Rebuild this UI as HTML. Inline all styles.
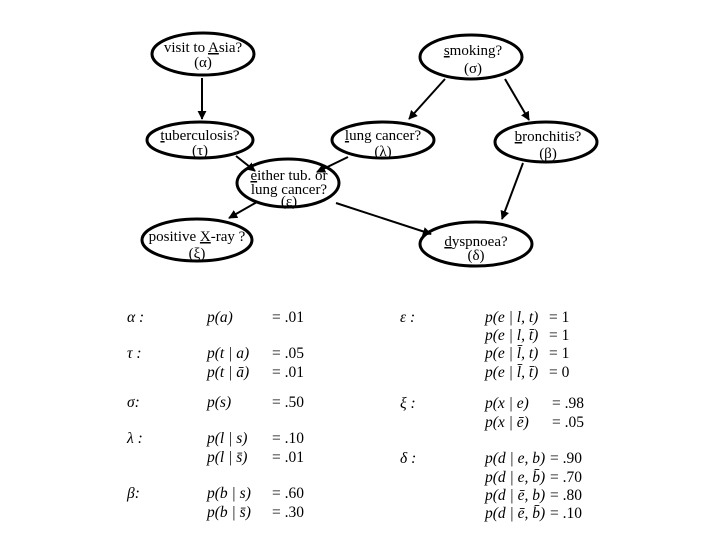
<!DOCTYPE html>
<html><head><meta charset="utf-8"><style>
body{margin:0;background:#fff}
svg{display:block}
text{font-family:"Liberation Serif",serif;fill:#000}
.n{font-size:15px}
.t{font-size:15.5px;font-style:italic}
.u{text-decoration:underline}
</style></head><body>
<svg width="720" height="540" viewBox="0 0 720 540">
<defs><marker id="a" viewBox="0 0 10 10" refX="9" refY="5" markerWidth="9" markerHeight="9" orient="auto" markerUnits="userSpaceOnUse"><path d="M0,0L10,5L0,10z"/></marker></defs>
<g fill="#fff" stroke="#000" stroke-width="3">
<ellipse cx="203" cy="54" rx="51" ry="21"/>
<ellipse cx="471" cy="57" rx="51" ry="22"/>
<ellipse cx="200" cy="140" rx="53" ry="18"/>
<ellipse cx="383" cy="140" rx="51" ry="18"/>
<ellipse cx="546" cy="142" rx="51" ry="20"/>
<ellipse cx="288" cy="183" rx="51" ry="24"/>
<ellipse cx="197" cy="240" rx="55" ry="21"/>
<ellipse cx="476" cy="244" rx="56" ry="22"/>
</g>
<g stroke="#000" stroke-width="2" marker-end="url(#a)">
<line x1="202" y1="78" x2="202" y2="119"/>
<line x1="236" y1="156" x2="255" y2="171"/>
<line x1="348" y1="157" x2="317" y2="172"/>
<line x1="445" y1="79" x2="409" y2="119"/>
<line x1="505" y1="79" x2="529" y2="120"/>
<line x1="523" y1="163" x2="502" y2="219"/>
<line x1="257" y1="202" x2="229" y2="218"/>
<line x1="336" y1="203" x2="431" y2="234"/>
</g>
<g class="n" text-anchor="middle">
<text x="203" y="52">visit to <tspan class="u">A</tspan>sia?</text><text x="203" y="67">(α)</text>
<text x="473" y="55"><tspan class="u">s</tspan>moking?</text><text x="473" y="73">(σ)</text>
<text x="200" y="140"><tspan class="u">t</tspan>uberculosis?</text><text x="200" y="155">(τ)</text>
<text x="383" y="140"><tspan class="u">l</tspan>ung cancer?</text><text x="383" y="156">(λ)</text>
<text x="548" y="141"><tspan class="u">b</tspan>ronchitis?</text><text x="548" y="158">(β)</text>
<text x="289" y="180"><tspan class="u">e</tspan>ither tub. or</text><text x="289" y="194">lung cancer?</text><text x="289" y="206">(ε)</text>
<text x="197" y="241">positive <tspan class="u">X</tspan>-ray ?</text><text x="197" y="258">(ξ)</text>
<text x="476" y="246"><tspan class="u">d</tspan>yspnoea?</text><text x="476" y="260">(δ)</text>
</g>
<g class="t">
<text x="127" y="322">α :</text><text x="207" y="322">p(a)</text><text x="272" y="322" font-style="normal">= .01</text>
<text x="127" y="358">τ :</text><text x="207" y="358">p(t | a)</text><text x="272" y="358" font-style="normal">= .05</text>
<text x="207" y="377">p(t | ā)</text><text x="272" y="377" font-style="normal">= .01</text>
<text x="127" y="407">σ:</text><text x="207" y="407">p(s)</text><text x="272" y="407" font-style="normal">= .50</text>
<text x="127" y="443">λ :</text><text x="207" y="443">p(l | s)</text><text x="272" y="443" font-style="normal">= .10</text>
<text x="207" y="462">p(l | s̄)</text><text x="272" y="462" font-style="normal">= .01</text>
<text x="127" y="498">β:</text><text x="207" y="498">p(b | s)</text><text x="272" y="498" font-style="normal">= .60</text>
<text x="207" y="517">p(b | s̄)</text><text x="272" y="517" font-style="normal">= .30</text>

<text x="400" y="322">ε :</text>
<text x="485" y="322">p(e | l, t)</text><text x="549" y="322" font-style="normal">= 1</text>
<text x="485" y="340">p(e | l, t̄)</text><text x="549" y="340" font-style="normal">= 1</text>
<text x="485" y="358">p(e | l̄, t)</text><text x="549" y="358" font-style="normal">= 1</text>
<text x="485" y="377">p(e | l̄, t̄)</text><text x="549" y="377" font-style="normal">= 0</text>
<text x="400" y="408">ξ :</text>
<text x="485" y="408">p(x | e)</text><text x="552" y="408" font-style="normal">= .98</text>
<text x="485" y="427">p(x | ē)</text><text x="552" y="427" font-style="normal">= .05</text>
<text x="400" y="463">δ :</text>
<text x="485" y="463">p(d | e, b)</text><text x="550" y="463" font-style="normal">= .90</text>
<text x="485" y="482">p(d | e, b̄)</text><text x="550" y="482" font-style="normal">= .70</text>
<text x="485" y="500">p(d | ē, b)</text><text x="550" y="500" font-style="normal">= .80</text>
<text x="485" y="518">p(d | ē, b̄)</text><text x="550" y="518" font-style="normal">= .10</text>
</g>
</svg>
</body></html>
